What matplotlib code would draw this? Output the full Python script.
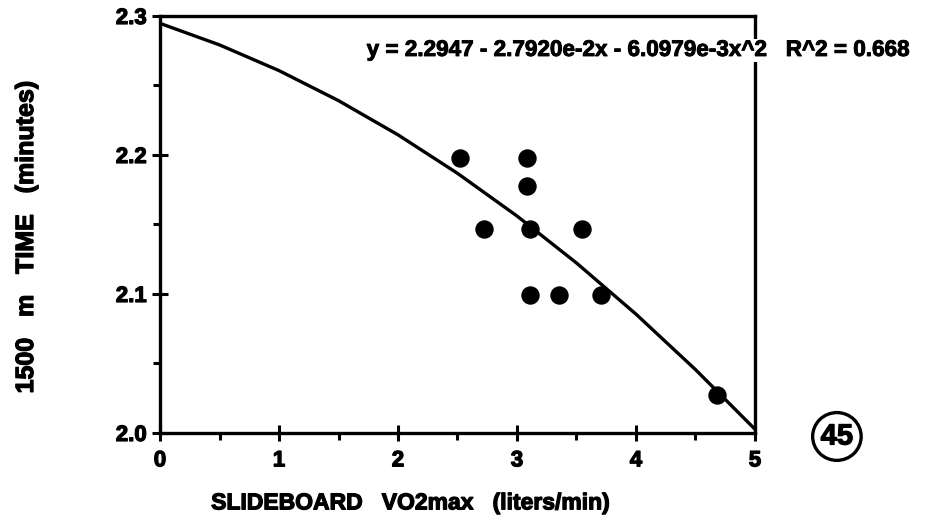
import matplotlib.pyplot as plt
import matplotlib.patheffects as pe
from matplotlib.patches import Ellipse
from matplotlib.ticker import MultipleLocator

plt.rcParams['font.family'] = ['Liberation Sans', 'DejaVu Sans']
plt.rcParams['font.weight'] = 'bold'

# measured points
vo2max = [2.52, 3.08, 3.08, 2.72, 3.11, 3.55, 3.11, 3.35, 3.71, 4.68]
time_1500 = [2.198, 2.198, 2.178, 2.147, 2.147, 2.147, 2.099, 2.099, 2.099, 2.027]

# fitted curve
curve_x = [0, 0.5, 1, 1.5, 2, 2.5, 3, 3.5, 4, 4.5, 5]
curve_y = [2.2947, 2.2792, 2.2607, 2.2391, 2.2145, 2.1868, 2.1561, 2.1223, 2.0855, 2.0456, 2.0027]

equation = 'y = 2.2947 - 2.7920e-2x - 6.0979e-3x^2   R^2 = 0.668'

heavy = [pe.withStroke(linewidth=0.9, foreground='black')]

fig = plt.figure(figsize=(9.33, 5.31), dpi=100)
ax = fig.add_axes([0.1715, 0.1846, 0.6377, 0.7853])

ax.plot(curve_x, curve_y, color='black', lw=2.4, zorder=2)
ax.scatter(vo2max, time_1500, s=150, color='black', zorder=3)

ax.set_xlim(0, 5)
ax.set_ylim(2.0, 2.3)
ax.xaxis.set_major_locator(MultipleLocator(1))
ax.xaxis.set_minor_locator(MultipleLocator(0.5))
ax.yaxis.set_major_locator(MultipleLocator(0.1))
ax.yaxis.set_minor_locator(MultipleLocator(0.05))
ax.yaxis.set_major_formatter(plt.FormatStrFormatter('%.1f'))

for s in ax.spines.values():
    s.set_linewidth(2.4)
ax.tick_params(which='major', direction='inout', length=11, width=2.2, labelsize=16)
ax.tick_params(axis='x', which='major', pad=7)
ax.tick_params(axis='y', which='major', pad=4)
ax.tick_params(which='minor', direction='out', length=5, width=2.2)
for lbl in ax.get_xticklabels() + ax.get_yticklabels():
    lbl.set_path_effects(heavy)

ax.set_xlabel('SLIDEBOARD   VO2max   (liters/min)', fontsize=16.5, fontweight='bold',
              path_effects=heavy)
ax.xaxis.set_label_coords(0.42, -0.14)
ax.set_ylabel('1500   m   TIME   (minutes)', fontsize=18, fontweight='bold', path_effects=heavy)
ax.yaxis.set_label_coords(-0.205, 0.47)

fig.text(0.393, 0.905, equation, fontsize=16.2, fontweight='bold', va='center', ha='left',
         path_effects=[pe.withStroke(linewidth=0.7, foreground='black')],
         bbox=dict(facecolor='white', edgecolor='none', pad=1))

# circled page number
fig.text(0.897, 0.178, '45', fontsize=21, fontweight='bold', ha='center', va='center',
         path_effects=heavy)
fig.patches.append(Ellipse((0.897, 0.178), 0.052, 0.09, transform=fig.transFigure,
                           fill=False, lw=2.4, color='black'))

fig.savefig('out.png', dpi=100)
